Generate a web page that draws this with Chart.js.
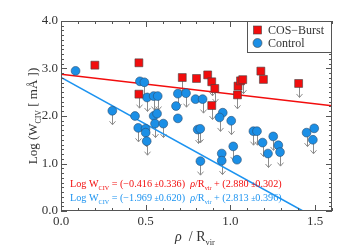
<!DOCTYPE html>
<html>
<head>
<meta charset="utf-8">
<script src="https://cdn.jsdelivr.net/npm/chart.js@4.4.0/dist/chart.umd.min.js"></script>
<style>
  html, body { margin: 0; padding: 0; background: #fff; }
  #wrap { width: 345px; height: 250px; }
</style>
</head>
<body>
<div id="wrap"><canvas id="civChart" width="345" height="250"></canvas></div>
<script>
// Values: rho/Rvir, log W_CIV, 1 = upper limit (arrow)
const burstRho   = [0.20, 0.46, 0.46, 0.716, 0.80, 0.866, 0.89, 0.908, 0.89, 1.045, 1.06, 1.073, 1.042, 1.18, 1.195, 1.403];
const burstLogW  = [3.07, 3.12, 2.46, 2.81, 2.79, 2.865, 2.72, 2.58, 2.22, 2.63, 2.74, 2.765, 2.445, 2.945, 2.77, 2.685];
const burstUpper = [0, 0, 1, 1, 0, 0, 1, 1, 1, 0, 0, 1, 1, 0, 0, 1];

const controlRho = [0.086, 0.466, 0.492, 0.508, 0.547, 0.571, 0.437, 0.547, 0.303, 0.456,
                    0.499, 0.500, 0.506, 0.567, 0.555, 0.604, 0.690, 0.679, 0.807, 0.822,
                    0.823, 0.690, 0.738, 0.794, 0.836, 0.955, 0.936, 1.005, 0.949, 0.949,
                    1.017, 1.039, 1.136, 1.157, 1.190, 1.253, 1.283, 1.222, 1.293, 1.450,
                    1.495, 1.487];
const controlLogW = [2.95, 2.73, 2.71, 2.39, 2.42, 2.42, 2.00, 2.00, 2.11, 1.75,
                     1.73, 1.65, 1.47, 2.05, 1.84, 1.84, 1.95, 2.21, 1.715, 1.73,
                     1.05, 2.47, 2.48, 2.355, 2.355, 2.07, 1.97, 1.90, 1.21, 1.06,
                     1.36, 1.08, 1.68, 1.68, 1.44, 1.57, 1.385, 1.21, 1.24, 1.65,
                     1.74, 1.50];
const controlUpper = [0, 0, 1, 1, 1, 1, 0, 0, 1, 1,
                      0, 1, 1, 0, 1, 1, 0, 0, 1, 1,
                      1, 1, 1, 0, 1, 0, 1, 1, 0, 1,
                      1, 0, 1, 1, 1, 1, 0, 1, 1, 1,
                      0, 1];

const seriesNames = ['COS\u2212Burst', 'Control'];

// Linear fits: [burst, control]
const fitSlope        = [-0.416, -1.969];
const fitSlopeErr     = [0.336, 0.620];
const fitIntercept    = [2.880, 2.813];
const fitInterceptErr = [0.302, 0.396];

const xTicks = [0.0, 0.5, 1.0, 1.5];
const yTicks = [0.0, 1.0, 2.0, 3.0, 4.0];
const xRange = [0, 1.6];
const yRange = [0, 4];

const RED = '#f20d0d';
const BLUE = '#1b8fe6';
const LINE_BLUE = '#1c93f0';
const FRAME = '#555555';
const SERIF = "'Liberation Serif', 'DejaVu Serif', serif";

function toPoints(xs, ys) {
    return xs.map((x, i) => ({ x: x, y: ys[i] }));
}

function fitLine(k) {
    return xRange.map(x => ({ x: x, y: fitIntercept[k] + fitSlope[k] * x }));
}

function fmt(v) {
    return (v < 0 ? '\u2212' : '') + Math.abs(v).toFixed(3);
}

// draw text made of pieces: n = normal, s = subscript, i = italic, p = small
function drawRich(ctx, parts, x, y, size, color, measureOnly) {
    let cx = x;
    parts.forEach(([txt, kind]) => {
        let fs = size, dy = 0, style = '';
        if (kind === 's') { fs = size * 0.6; dy = size * 0.3; }
        if (kind === 'p') { fs = size * 0.75; }
        if (kind === 'i') { style = 'italic '; }
        ctx.font = style + fs + 'px ' + SERIF;
        if (!measureOnly) {
            ctx.fillStyle = color;
            ctx.fillText(txt, cx, y + dy);
        }
        cx += ctx.measureText(txt).width;
    });
    return cx - x;
}

// Down arrows for upper limits, under the markers
const limitArrows = {
    id: 'limitArrows',
    beforeDatasetsDraw(chart) {
        const ctx = chart.ctx;
        const flags = [burstUpper, controlUpper];
        ctx.save();
        ctx.strokeStyle = '#8c8c8c';
        ctx.lineWidth = 1;
        flags.forEach((flag, k) => {
            const meta = chart.getDatasetMeta(k);
            meta.data.forEach((pt, i) => {
                if (!flag[i]) return;
                const x = Math.round(pt.x) + 0.5, y0 = pt.y, y1 = pt.y + 14;
                ctx.beginPath();
                ctx.moveTo(x, y0);
                ctx.lineTo(x, y1);
                ctx.moveTo(x - 3, y1 - 3.5);
                ctx.lineTo(x, y1);
                ctx.lineTo(x + 3, y1 - 3.5);
                ctx.stroke();
            });
        });
        ctx.restore();
    }
};

// Box frame with inward major/minor ticks on all sides, legend, labels
const frameAndText = {
    id: 'frameAndText',
    afterDraw(chart) {
        const ctx = chart.ctx;
        const a = chart.chartArea;
        const xs = chart.scales.x, ys = chart.scales.y;
        ctx.save();
        ctx.strokeStyle = FRAME;
        ctx.lineWidth = 1;
        ctx.strokeRect(a.left + 0.5, a.top + 0.5, a.right - a.left - 1, a.bottom - a.top - 1);

        ctx.beginPath();
        for (let v = xRange[0]; v <= xRange[1] + 1e-9; v += 0.1) {
            const major = xTicks.some(t => Math.abs(t - v) < 1e-6);
            const len = major ? 6 : 3;
            const px = Math.round(xs.getPixelForValue(v)) + 0.5;
            ctx.moveTo(px, a.bottom); ctx.lineTo(px, a.bottom - len);
            ctx.moveTo(px, a.top); ctx.lineTo(px, a.top + len);
        }
        for (let v = yRange[0]; v <= yRange[1] + 1e-9; v += 0.1) {
            const major = yTicks.some(t => Math.abs(t - v) < 1e-6);
            const len = major ? 6 : 3;
            const py = Math.round(ys.getPixelForValue(v)) + 0.5;
            ctx.moveTo(a.left, py); ctx.lineTo(a.left + len, py);
            ctx.moveTo(a.right, py); ctx.lineTo(a.right - len, py);
        }
        ctx.stroke();

        // legend box in the top right corner
        const lx = a.right - 85, ly = a.top, lh = 31;
        ctx.fillStyle = '#fff';
        ctx.fillRect(lx, ly, a.right - lx, lh);
        ctx.strokeRect(lx + 0.5, ly + 0.5, a.right - lx - 1, lh);
        ctx.fillStyle = RED;
        ctx.strokeStyle = '#444';
        ctx.lineWidth = 0.6;
        ctx.fillRect(lx + 6.5, ly + 5, 8, 8);
        ctx.strokeRect(lx + 6.5, ly + 5, 8, 8);
        ctx.beginPath();
        ctx.arc(lx + 10.5, ly + 22, 4.5, 0, Math.PI * 2);
        ctx.fillStyle = BLUE;
        ctx.fill();
        ctx.stroke();
        ctx.textBaseline = 'middle';
        ctx.textAlign = 'left';
        ctx.font = '12px ' + SERIF;
        ctx.fillStyle = '#333';
        ctx.fillText(seriesNames[0], lx + 21, ly + 9.5);
        ctx.fillText(seriesNames[1], lx + 21, ly + 22.5);

        // fit equations
        ctx.textBaseline = 'alphabetic';
        const colors = [RED, LINE_BLUE];
        [0, 1].forEach(k => {
            const parts = [
                ['Log W', 'n'], ['CIV', 's'],
                [' = (' + fmt(fitSlope[k]) + ' ', 'n'], ['\u00b1', 'p'],
                [fitSlopeErr[k].toFixed(3) + ')  ', 'n'],
                ['\u03c1', 'i'], ['/R', 'n'], ['vir', 's'],
                [' + (' + fitIntercept[k].toFixed(3) + ' ', 'n'], ['\u00b1', 'p'],
                [fitInterceptErr[k].toFixed(3) + ')', 'n']
            ];
            drawRich(ctx, parts, a.left + 9, 187 + k * 13.5, 10.2, colors[k]);
        });

        // axis titles
        const xt = [['\u03c1', 'i'], ['  / R', 'n'], ['vir', 's']];
        const xw = drawRich(ctx, xt, 0, 0, 14, '#333', true);
        drawRich(ctx, xt, 195 - xw / 2, 241, 14, '#333');

        const yt = [['Log (W', 'n'], ['CIV', 's'], [' [ m\u00c5 ])', 'n']];
        ctx.save();
        ctx.translate(37, (a.top + a.bottom) / 2);
        ctx.rotate(-Math.PI / 2);
        const yw = drawRich(ctx, yt, 0, 0, 13, '#333', true);
        drawRich(ctx, yt, -yw / 2, 0, 13, '#333');
        ctx.restore();

        ctx.restore();
    }
};

function initChart() {
    const ctx = document.getElementById('civChart').getContext('2d');
    const tickFont = { family: SERIF, size: 13 };

    new Chart(ctx, {
        type: 'scatter',
        data: {
            datasets: [{
                label: seriesNames[0],
                data: toPoints(burstRho, burstLogW),
                pointStyle: 'rect',
                pointRadius: 5.6,
                backgroundColor: RED,
                borderColor: '#444',
                borderWidth: 0.6,
                order: 0
            }, {
                label: seriesNames[1],
                data: toPoints(controlRho, controlLogW),
                pointStyle: 'circle',
                pointRadius: 4.4,
                backgroundColor: BLUE,
                borderColor: '#2b4d6e',
                borderWidth: 0.6,
                order: 1
            }, {
                data: fitLine(0),
                showLine: true,
                pointRadius: 0,
                borderColor: RED,
                borderWidth: 1.6,
                order: 2
            }, {
                data: fitLine(1),
                showLine: true,
                pointRadius: 0,
                borderColor: LINE_BLUE,
                borderWidth: 1.6,
                order: 2
            }]
        },
        options: {
            responsive: false,
            animation: false,
            devicePixelRatio: 1,
            layout: { padding: { top: 21, right: 13, left: 0, bottom: 0 } },
            plugins: {
                legend: { display: false },
                tooltip: { enabled: false }
            },
            scales: {
                x: {
                    type: 'linear',
                    min: xRange[0],
                    max: xRange[1],
                    afterBuildTicks: s => { s.ticks = xTicks.map(v => ({ value: v })); },
                    afterFit: s => { s.height = 39; },
                    grid: { display: false, drawTicks: false },
                    border: { display: false },
                    ticks: {
                        font: tickFont,
                        color: '#333',
                        padding: 3,
                        maxRotation: 0,
                        autoSkip: false,
                        callback: v => v.toFixed(1)
                    }
                },
                y: {
                    type: 'linear',
                    min: yRange[0],
                    max: yRange[1],
                    afterBuildTicks: s => { s.ticks = yTicks.map(v => ({ value: v })); },
                    afterFit: s => { s.width = 61; },
                    grid: { display: false, drawTicks: false },
                    border: { display: false },
                    ticks: {
                        font: tickFont,
                        color: '#333',
                        padding: 3,
                        autoSkip: false,
                        callback: v => v.toFixed(1)
                    }
                }
            }
        },
        plugins: [limitArrows, frameAndText]
    });
}

document.addEventListener('DOMContentLoaded', initChart);
</script>
</body>
</html>
